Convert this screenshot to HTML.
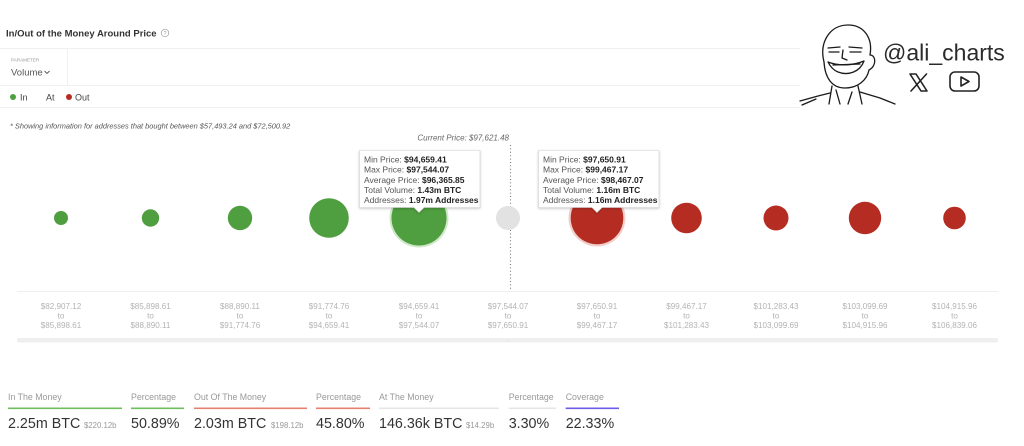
<!DOCTYPE html>
<html><head><meta charset="utf-8"><style>
html,body{margin:0;padding:0;background:#fff;width:1024px;height:446px;overflow:hidden}
svg{display:block;font-family:"Liberation Sans",sans-serif}
</style></head><body>
<svg width="1024" height="446" viewBox="0 0 1024 446" xmlns="http://www.w3.org/2000/svg">
<defs>
<filter id="sh" x="-10%" y="-10%" width="120%" height="130%"><feDropShadow dx="0" dy="1" stdDeviation="1.2" flood-color="#000" flood-opacity="0.22"/></filter>
</defs>
<rect width="1024" height="446" fill="#fff"/>
<!-- header -->
<text x="6" y="36.5" font-size="9.5" font-weight="bold" fill="#333">In/Out of the Money Around Price</text>
<circle cx="165" cy="33" r="3.8" fill="none" stroke="#999" stroke-width="0.7"/>
<text x="165" y="35.2" font-size="5.5" fill="#999" text-anchor="middle">?</text>
<line x1="0" y1="48.5" x2="800" y2="48.5" stroke="#f0f0f0"/>
<line x1="67.5" y1="48.5" x2="67.5" y2="85" stroke="#f0f0f0"/>
<line x1="0" y1="85.5" x2="800" y2="85.5" stroke="#f0f0f0"/>
<line x1="0" y1="107.5" x2="800" y2="107.5" stroke="#f0f0f0"/>
<text x="11" y="61.5" font-size="4.6" fill="#999">PARAMETER</text>
<text x="11" y="75.5" font-size="9.5" fill="#555">Volume</text>
<path d="M44.5,71 L47,73.5 L49.5,71" fill="none" stroke="#555" stroke-width="0.9"/>
<circle cx="13" cy="97" r="3" fill="#4f9e3f"/>
<text x="20" y="100.3" font-size="9" fill="#444">In</text>
<text x="46" y="100.3" font-size="9" fill="#444">At</text>
<circle cx="69" cy="97" r="3" fill="#b52d22"/>
<text x="75" y="100.3" font-size="9" fill="#444">Out</text>
<text x="10" y="128.5" font-size="7.4" font-style="italic" fill="#555">* Showing information for addresses that bought between $57,493.24 and $72,500.92</text>

<!-- current price -->
<text x="509" y="140.5" font-size="8" font-style="italic" fill="#666" text-anchor="end">Current Price: $97,621.48</text>
<line x1="510.5" y1="145" x2="510.5" y2="291" stroke="#777" stroke-width="1.1" stroke-dasharray="1 2.4"/>

<!-- axis & scroll -->
<line x1="17" y1="291.5" x2="998" y2="291.5" stroke="#eeeeee"/>
<rect x="17" y="338" width="981" height="4.5" rx="2" fill="#efefef"/>
<text x="508" y="342" font-size="4" fill="#ccc" text-anchor="middle">···</text>

<!-- bubbles -->
<circle cx="61" cy="218" r="7" fill="#4f9e3f"/>
<circle cx="150.5" cy="218" r="8.7" fill="#4f9e3f"/>
<circle cx="240" cy="218" r="12.2" fill="#4f9e3f"/>
<circle cx="329" cy="218" r="19.8" fill="#4f9e3f"/>
<circle cx="419" cy="218" r="29.5" fill="#cfe8c7"/>
<circle cx="419" cy="218" r="27.5" fill="#4f9e3f"/>
<circle cx="508" cy="218" r="12" fill="#e2e2e2"/>
<circle cx="597" cy="218" r="28.5" fill="#f0cfcb"/>
<circle cx="597" cy="218" r="26.3" fill="#b52d22"/>
<circle cx="686.5" cy="218" r="15.3" fill="#b52d22"/>
<circle cx="776" cy="218" r="12.5" fill="#b52d22"/>
<circle cx="865" cy="218" r="16.2" fill="#b52d22"/>
<circle cx="954.5" cy="218" r="11.3" fill="#b52d22"/>

<!-- x labels -->
<g font-size="8.1" fill="#b3b3b3" text-anchor="middle">
<text x="61" y="309">$82,907.12</text><text x="61" y="318.3">to</text><text x="61" y="327.8">$85,898.61</text>
<text x="150.5" y="309">$85,898.61</text><text x="150.5" y="318.3">to</text><text x="150.5" y="327.8">$88,890.11</text>
<text x="240" y="309">$88,890.11</text><text x="240" y="318.3">to</text><text x="240" y="327.8">$91,774.76</text>
<text x="329" y="309">$91,774.76</text><text x="329" y="318.3">to</text><text x="329" y="327.8">$94,659.41</text>
<text x="419" y="309">$94,659.41</text><text x="419" y="318.3">to</text><text x="419" y="327.8">$97,544.07</text>
<text x="508" y="309">$97,544.07</text><text x="508" y="318.3">to</text><text x="508" y="327.8">$97,650.91</text>
<text x="597" y="309">$97,650.91</text><text x="597" y="318.3">to</text><text x="597" y="327.8">$99,467.17</text>
<text x="686.5" y="309">$99,467.17</text><text x="686.5" y="318.3">to</text><text x="686.5" y="327.8">$101,283.43</text>
<text x="776" y="309">$101,283.43</text><text x="776" y="318.3">to</text><text x="776" y="327.8">$103,099.69</text>
<text x="865" y="309">$103,099.69</text><text x="865" y="318.3">to</text><text x="865" y="327.8">$104,915.96</text>
<text x="954.5" y="309">$104,915.96</text><text x="954.5" y="318.3">to</text><text x="954.5" y="327.8">$106,839.06</text>
</g>

<!-- tooltip 1 -->
<g filter="url(#sh)">
<path d="M359.5,150.5 H480 V207.5 H424 L419,212.5 L414,207.5 H359.5 Z" fill="#fff" stroke="#d0d0d0" stroke-width="0.6"/>
</g>
<g font-size="8.5" fill="#555">
<text x="364" y="162.3">Min Price: <tspan font-weight="bold" fill="#222">$94,659.41</tspan></text>
<text x="364" y="172.5">Max Price: <tspan font-weight="bold" fill="#222">$97,544.07</tspan></text>
<text x="364" y="182.8">Average Price: <tspan font-weight="bold" fill="#222">$96,365.85</tspan></text>
<text x="364" y="193">Total Volume: <tspan font-weight="bold" fill="#222">1.43m BTC</tspan></text>
<text x="364" y="203.2">Addresses: <tspan font-weight="bold" fill="#222">1.97m Addresses</tspan></text>
</g>
<!-- tooltip 2 -->
<g filter="url(#sh)">
<path d="M538.5,150.5 H659 V207.5 H602 L597,212.5 L592,207.5 H538.5 Z" fill="#fff" stroke="#d0d0d0" stroke-width="0.6"/>
</g>
<g font-size="8.5" fill="#555">
<text x="543" y="162.3">Min Price: <tspan font-weight="bold" fill="#222">$97,650.91</tspan></text>
<text x="543" y="172.5">Max Price: <tspan font-weight="bold" fill="#222">$99,467.17</tspan></text>
<text x="543" y="182.8">Average Price: <tspan font-weight="bold" fill="#222">$98,467.07</tspan></text>
<text x="543" y="193">Total Volume: <tspan font-weight="bold" fill="#222">1.16m BTC</tspan></text>
<text x="543" y="203.2">Addresses: <tspan font-weight="bold" fill="#222">1.16m Addresses</tspan></text>
</g>

<!-- bottom stats -->
<g font-size="8.8" fill="#999">
<text x="8" y="400.2">In The Money</text>
<text x="131" y="400.2">Percentage</text>
<text x="194" y="400.2">Out Of The Money</text>
<text x="316" y="400.2">Percentage</text>
<text x="379" y="400.2">At The Money</text>
<text x="508.7" y="400.2">Percentage</text>
<text x="565.7" y="400.2">Coverage</text>
</g>
<rect x="8" y="407.5" width="114" height="1.6" fill="#6cbf5b"/>
<rect x="131" y="407.5" width="53" height="1.6" fill="#6cbf5b"/>
<rect x="194" y="407.5" width="113" height="1.6" fill="#e38070"/>
<rect x="316" y="407.5" width="54" height="1.6" fill="#e38070"/>
<rect x="379" y="407.5" width="120" height="1.6" fill="#e6e6e6"/>
<rect x="508.7" y="407.5" width="47.3" height="1.6" fill="#e6e6e6"/>
<rect x="565.7" y="407.5" width="53.3" height="1.6" fill="#6b5ce7"/>
<g font-size="14.3" fill="#333">
<text x="8" y="428">2.25m BTC</text>
<text x="131" y="428">50.89%</text>
<text x="194" y="428">2.03m BTC</text>
<text x="316" y="428">45.80%</text>
<text x="379" y="428">146.36k BTC</text>
<text x="508.7" y="428">3.30%</text>
<text x="565.7" y="428">22.33%</text>
</g>
<g font-size="7.8" fill="#999">
<text x="84" y="428">$220.12b</text>
<text x="271" y="428">$198.12b</text>
<text x="466" y="428">$14.29b</text>
</g>

<!-- logo -->
<rect x="800" y="0" width="224" height="106" fill="#fff"/>
<g fill="none" stroke="#1a1a1a" stroke-width="1.3" stroke-linecap="round" stroke-linejoin="round">
<path d="M824,62 C819,42 830,25 848,25 C864,25 873,38 870,55"/>
<path d="M870,55 C876,55 877,66 869,70 C867,80 858,88 845,88 C832,88 825,78 824,62"/>
<path d="M828,48 L840,47 M829,52 L839,52 M849,47 L862,48 M850,52 L861,52"/>
<path d="M843,50 L842,58 L847,60"/>
<path d="M828,62 C838,66 852,66 864,61 C860,72 848,76 838,72 C833,70 830,66 828,62 Z"/>
<path d="M833,65 L860,64"/>
<path d="M832,86 L829,104 M858,86 L862,104"/>
<path d="M800,101 L818,96 L830,93 M802,105 L816,99"/>
<path d="M860,92 L880,98 L895,104"/>
<path d="M836,90 L840,104 M852,92 L848,104"/>
</g>
<text x="883" y="60.5" font-size="23" fill="#2a2a2a">@ali_charts</text>
<g fill="none" stroke="#222" stroke-width="1.6" stroke-linecap="round" stroke-linejoin="round">
<path d="M910,74 L916,74 L927,91 L921,91 Z"/>
<path d="M926.5,74 L911,91"/>
<rect x="950" y="72" width="29" height="19" rx="5"/>
<path d="M961,77 L969,81.5 L961,86 Z"/>
</g>
</svg>
</body></html>
